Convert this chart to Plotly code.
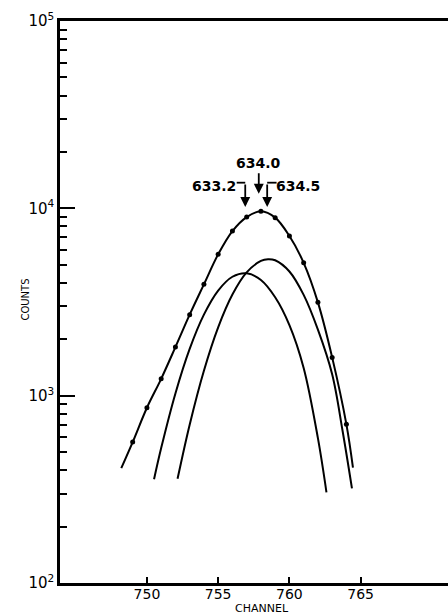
import plotly.graph_objects as go

# ---- data ----
dot_channels = [749, 750, 751, 752, 753, 754, 755, 756, 757, 758, 759, 760, 761, 762, 763, 764]
dot_counts = [565, 862, 1230, 1817, 2707, 3928, 5680, 7560, 8985, 9640, 8920, 7115, 5117, 3148, 1601, 703]

sum_channels = [748.2] + dot_channels + [764.46]
sum_counts = [410] + dot_counts + [413]

comp1_channels = [750.5, 751, 752, 753, 754, 755, 756, 757, 758, 759, 760, 761, 762, 762.6]
comp1_counts = [358, 525, 1028, 1777, 2708, 3640, 4313, 4504, 4145, 3352, 2381, 1406, 593, 305]

comp2_channels = [752.15, 753, 754, 755, 756, 757, 758, 758.5, 759, 760, 761, 762, 763, 763.73, 764.39]
comp2_counts = [360, 700, 1359, 2317, 3467, 4550, 5240, 5355, 5280, 4600, 3450, 2250, 1300, 650, 320]

x_ticks = [750, 755, 760, 765]
y_ticks = [100, 1000, 10000, 100000]
y_tick_text = ["10<sup>2</sup>", "10<sup>3</sup>", "10<sup>4</sup>", "10<sup>5</sup>"]
y_minor = [m * d for d in (100, 1000, 10000) for m in range(2, 10)]

peak_labels = ["633.2", "634.0", "634.5"]

FONT = "DejaVu Sans"
fig = go.Figure()

line_style = dict(color="black", width=2, shape="spline", smoothing=1.0)
fig.add_trace(go.Scatter(x=sum_channels, y=sum_counts, mode="lines", line=line_style, hoverinfo="skip"))
fig.add_trace(go.Scatter(x=comp1_channels, y=comp1_counts, mode="lines", line=line_style, hoverinfo="skip"))
fig.add_trace(go.Scatter(x=comp2_channels, y=comp2_counts, mode="lines", line=line_style, hoverinfo="skip"))
fig.add_trace(go.Scatter(x=dot_channels, y=dot_counts, mode="markers",
                         marker=dict(color="black", size=5), hoverinfo="skip"))

# peak annotations
ann_font = dict(family=FONT, size=14, color="black")
arrow = dict(showarrow=True, arrowhead=2, arrowsize=1.1, arrowwidth=1.8, arrowcolor="black", text="")
# middle arrow + label
fig.add_annotation(x=757.85, y=4.078, xref="x", yref="y", ax=0, ay=-22, **arrow)
fig.add_annotation(x=757.85, y=4.24, xref="x", yref="y", text="<b>" + peak_labels[1] + "</b>",
                   showarrow=False, font=ann_font)
# left bent arrow
fig.add_annotation(x=756.9, y=4.007, xref="x", yref="y", ax=0, ay=-24, **arrow)
fig.add_shape(type="line", x0=756.3, x1=756.9, y0=0.7123, y1=0.7123, xref="x", yref="paper",
              line=dict(color="black", width=1.8))
fig.add_annotation(x=754.69, y=4.119, xref="x", yref="y", text="<b>" + peak_labels[0] + "</b>",
                   showarrow=False, font=ann_font)
# right bent arrow
fig.add_annotation(x=758.44, y=4.007, xref="x", yref="y", ax=0, ay=-24, **arrow)
fig.add_shape(type="line", x0=758.44, x1=759.1, y0=0.7123, y1=0.7123, xref="x", yref="paper",
              line=dict(color="black", width=1.8))
fig.add_annotation(x=760.62, y=4.119, xref="x", yref="y", text="<b>" + peak_labels[2] + "</b>",
                   showarrow=False, font=ann_font)

# axis titles as annotations
fig.add_annotation(x=0.5206, y=-0.045, xref="paper", yref="paper", text="CHANNEL",
                   showarrow=False, font=dict(family=FONT, size=11, color="black"), yanchor="middle")
fig.add_annotation(x=-0.108, y=0.5036, xref="paper", yref="paper", text="COUNTS", textangle=-90,
                   showarrow=False, font=dict(family=FONT, size=10, color="black"))

fig.update_xaxes(range=[743.9, 771.13], showline=True, linecolor="black", linewidth=2.5, mirror=True,
                 ticks="inside", ticklen=6, tickwidth=2, tickcolor="black",
                 tickvals=x_ticks, ticktext=[str(v) for v in x_ticks],
                 tickfont=dict(family=FONT, size=14, color="black"), ticklabelstandoff=-4,
                 showgrid=False, zeroline=False)
fig.update_yaxes(type="log", range=[2, 5], showline=True, linecolor="black", linewidth=2.5, mirror=False,
                 ticks="inside", ticklen=15, tickwidth=2, tickcolor="black",
                 tickvals=y_ticks, ticktext=y_tick_text,
                 tickfont=dict(family=FONT, size=15, color="black"),
                 minor=dict(ticks="inside", ticklen=7, tickwidth=2, tickcolor="black", tickvals=y_minor,
                            showgrid=False),
                 showgrid=False, zeroline=False)

fig.update_layout(width=448, height=615, margin=dict(l=60, r=0, t=21, b=32),
                  paper_bgcolor="white", plot_bgcolor="white", showlegend=False)

fig.write_html("out.html")
